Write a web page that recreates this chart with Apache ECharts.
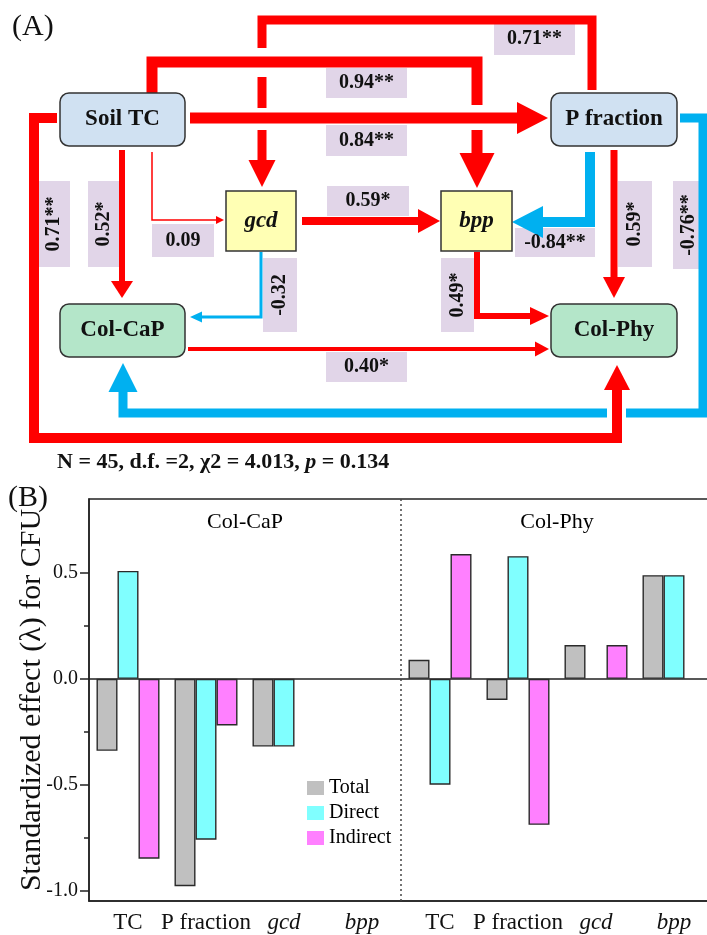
<!DOCTYPE html>
<html>
<head>
<meta charset="utf-8">
<script src="https://cdn.jsdelivr.net/npm/echarts@6/dist/echarts.min.js"></script>
<style>
  html, body { margin: 0; padding: 0; background: #fff; }
  #chart { width: 707px; height: 935px; }
</style>
</head>
<body>
<div id="chart"></div>
<script>
// ---- panel B data (standardized effects) ----
const categories = ['TC', 'P fraction', 'gcd', 'bpp', 'TC', 'P fraction', 'gcd', 'bpp'];
const groupNames = ['Col-CaP', 'Col-Phy'];
const totalEffect = [-0.34, -0.98, -0.32, null, 0.09, -0.10, 0.16, 0.49];
const directEffect = [0.51, -0.76, -0.32, null, -0.50, 0.58, null, 0.49];
const indirectEffect = [-0.85, -0.22, null, null, 0.59, -0.69, 0.16, null];
const yTicks = [-1.0, -0.5, 0.0, 0.5];
const yMinorTicks = [-0.75, -0.25, 0.25];

// ---- panel A data (path model) ----
const nodeNames = ['Soil TC', 'P fraction', 'gcd', 'bpp', 'Col-CaP', 'Col-Phy'];
const pathCoefs = ['0.71**', '0.94**', '0.84**', '0.09', '0.52*', '0.71**', '0.59*',
  '-0.32', '-0.84**', '0.59*', '-0.76**', '0.49*', '0.40*'];
const fitNote = 'N = 45, d.f. =2, \u03c72 = 4.013, ';
const fitP = '0.134';

const serif = '"Liberation Serif", "Times New Roman", serif';
const RED = '#ff0000';
const BLUE = '#00b0f0';

// layout of the diagram (pixels)
const nodeLayout = [
  { box: [60, 93, 125, 53], fill: '#d0e1f2', r: 9 },
  { box: [551, 93, 126, 53], fill: '#d0e1f2', r: 9 },
  { box: [226, 191, 70, 60], fill: '#ffffb4', r: 0, italic: true },
  { box: [441, 191, 71, 60], fill: '#ffffb4', r: 0, italic: true },
  { box: [60, 304, 125, 53], fill: '#b4e6c9', r: 9 },
  { box: [551, 304, 126, 53], fill: '#b4e6c9', r: 9 }
];
// one entry per path: polyline pieces (last one ends at arrow tip), width, head [len, width], colour, label box
const pathLayout = [
  { segs: [[[592, 90], [592, 20], [262, 20], [262, 48]], [[262, 77], [262, 108]], [[262, 130], [262, 187]]], w: 9, head: [27, 27], c: RED, lab: [494, 23, 81, 32] },
  { segs: [[[152, 93], [152, 62], [477, 62], [477, 105]], [[477, 130], [477, 188]]], w: 11, head: [35, 35], c: RED, lab: [326, 68, 81, 30] },
  { segs: [[[190, 118], [548, 118]]], w: 11, head: [31, 32], c: RED, lab: [326, 125, 81, 31] },
  { segs: [[[152, 152], [152, 220], [224, 220]]], w: 1.5, head: [8, 8], c: RED, lab: [152, 224, 62, 33] },
  { segs: [[[122, 150], [122, 298]]], w: 6, head: [17, 22], c: RED, lab: [88, 181, 31, 86], rot: true },
  { segs: [[[57, 118], [34, 118], [34, 438], [617, 438], [617, 365]]], w: 10, head: [25, 26], c: RED, lab: [38, 181, 32, 86], rot: true },
  { segs: [[[302, 221], [440, 221]]], w: 8, head: [22, 24], c: RED, lab: [327, 186, 82, 30] },
  { segs: [[[261, 252], [261, 317], [190, 317]]], w: 3, head: [12, 11], c: BLUE, lab: [263, 258, 34, 74], rot: true },
  { segs: [[[590, 152], [590, 222], [512, 222]]], w: 10, head: [31, 32], c: BLUE, lab: [515, 228, 80, 29] },
  { segs: [[[614, 150], [614, 298]]], w: 7, head: [21, 22], c: RED, lab: [618, 181, 34, 86], rot: true },
  { segs: [[[680, 118], [703, 118], [703, 413], [626, 413]], [[607, 413], [123, 413], [123, 363]]], w: 9, head: [29, 29], c: BLUE, lab: [673, 181, 31, 88], rot: true },
  { segs: [[[477, 252], [477, 316], [549, 316]]], w: 6, head: [19, 18], c: RED, lab: [441, 258, 33, 74], rot: true },
  { segs: [[[188, 349], [549, 349]]], w: 4, head: [14, 15], c: RED, lab: [326, 352, 81, 30] }
];

function arrowShapes(p) {
  const out = [];
  p.segs.forEach((seg, i) => {
    const pts = seg.map(q => q.slice());
    if (i === p.segs.length - 1) {
      const a = pts[pts.length - 2], b = pts[pts.length - 1];
      const dx = b[0] - a[0], dy = b[1] - a[1];
      const L = Math.hypot(dx, dy), ux = dx / L, uy = dy / L;
      const bx = b[0] - ux * p.head[0], by = b[1] - uy * p.head[0];
      const hw = p.head[1] / 2;
      pts[pts.length - 1] = [bx + ux, by + uy];
      out.push({
        type: 'polygon', z: 20,
        shape: { points: [b, [bx - uy * hw, by + ux * hw], [bx + uy * hw, by - ux * hw]] },
        style: { fill: p.c }
      });
    }
    out.push({
      type: 'polyline', z: 20,
      shape: { points: pts },
      style: { stroke: p.c, lineWidth: p.w, fill: null, lineJoin: 'miter', lineCap: 'butt' }
    });
  });
  return out;
}

const graphics = [];
// coefficient label boxes
pathLayout.forEach((p, i) => {
  const [x, y, w, h] = p.lab;
  graphics.push({ type: 'rect', z: 10, shape: { x, y, width: w, height: h }, style: { fill: '#e1d5e8' } });
  graphics.push({
    type: 'text', z: 40, x: x + w / 2, y: y + h / 2, rotation: p.rot ? Math.PI / 2 : 0,
    style: { text: pathCoefs[i], x: 0, y: 0, align: 'center', verticalAlign: 'middle',
      font: 'bold 20px ' + serif, fill: '#111' }
  });
});
pathLayout.forEach(p => arrowShapes(p).forEach(g => graphics.push(g)));
// nodes
nodeLayout.forEach((n, i) => {
  const [x, y, w, h] = n.box;
  graphics.push({ type: 'rect', z: 30, shape: { x, y, width: w, height: h, r: n.r },
    style: { fill: n.fill, stroke: '#333', lineWidth: 1.5 } });
  graphics.push({ type: 'text', z: 40, x: x + w / 2, y: y + h / 2,
    style: { text: nodeNames[i], x: 0, y: 0, align: 'center', verticalAlign: 'middle',
      font: (n.italic ? 'italic ' : '') + 'bold 23px ' + serif, fill: '#111' } });
});
graphics.push({ type: 'text', z: 40, left: 12, top: 12, style: { text: '(A)', font: '30px ' + serif, fill: '#111' } });
graphics.push({ type: 'text', z: 40, left: 8, top: 483, style: { text: '(B)', font: '30px ' + serif, fill: '#111' } });
graphics.push({ type: 'text', z: 40, x: 57, y: 462, style: {
  text: '{n|' + fitNote + '}{i|p}{n| = ' + fitP + '}', x: 0, y: 0, verticalAlign: 'middle',
  rich: { n: { font: 'bold 22px ' + serif, fill: '#111' }, i: { font: 'italic bold 22px ' + serif, fill: '#111' } }
} });

const axisLineStyle = { color: '#222', width: 1.5 };
const xLabel = {
  interval: 0, margin: 10, fontSize: 23, color: '#111', fontFamily: serif,
  formatter: v => (v === 'gcd' || v === 'bpp') ? '{i|' + v + '}' : v,
  rich: { i: { fontStyle: 'italic', fontSize: 23, fontFamily: serif, color: '#111' } }
};

const option = {
  animation: false,
  backgroundColor: '#fff',
  textStyle: { fontFamily: serif },
  graphic: graphics,
  grid: { left: 89, top: 499, width: 624, height: 402, containLabel: false, outerBoundsMode: 'none',
    show: true, borderColor: '#222', borderWidth: 1.5, backgroundColor: 'transparent' },
  legend: {
    data: ['Total', 'Direct', 'Indirect'], orient: 'vertical', left: 307, top: 778, padding: 0,
    itemWidth: 17, itemHeight: 14, itemGap: 5, icon: 'rect',
    itemStyle: { borderWidth: 0 },
    textStyle: { fontSize: 20, fontFamily: serif, color: '#000' }
  },
  xAxis: [
    { type: 'category', data: categories, position: 'bottom',
      axisLine: { onZero: false, lineStyle: axisLineStyle },
      axisTick: { alignWithLabel: true, length: 8, lineStyle: axisLineStyle },
      axisLabel: xLabel, splitLine: { show: false } },
    { type: 'category', data: categories, position: 'top',
      axisLine: { onZero: true, lineStyle: axisLineStyle },
      axisTick: { inside: true, alignWithLabel: true, length: 8, lineStyle: axisLineStyle },
      axisLabel: { show: false }, splitLine: { show: false } },
    { type: 'value', min: 0, max: 8, show: false }
  ],
  yAxis: [
    { type: 'value', min: -1.05, max: 0.85, position: 'left',
      name: 'Standardized effect (\u03bb) for CFU', nameLocation: 'middle', nameGap: 42,
      nameMoveOverlap: false,
      nameTextStyle: { fontSize: 30, fontFamily: serif, color: '#111' },
      axisLine: { show: true, onZero: false, lineStyle: axisLineStyle },
      axisTick: { show: true, length: 9, customValues: yTicks, lineStyle: axisLineStyle },
      axisLabel: { customValues: yTicks, formatter: v => v.toFixed(1), fontSize: 20, margin: 11, color: '#111', fontFamily: serif },
      splitLine: { show: false } },
    { type: 'value', min: -1.05, max: 0.85, position: 'left',
      axisLine: { show: false },
      axisTick: { show: true, length: 5, customValues: yMinorTicks, lineStyle: axisLineStyle },
      axisLabel: { show: false }, splitLine: { show: false } }
  ],
  series: [
    { name: 'Total', type: 'bar', data: totalEffect, barWidth: 21, barGap: '0%',
      itemStyle: { color: '#c0c0c0', borderColor: '#2a2a2a', borderWidth: 1.4 } },
    { name: 'Direct', type: 'bar', data: directEffect, barWidth: 21, barGap: '0%',
      itemStyle: { color: '#80ffff', borderColor: '#2a2a2a', borderWidth: 1.4 } },
    { name: 'Indirect', type: 'bar', data: indirectEffect, barWidth: 21, barGap: '0%',
      itemStyle: { color: '#ff80ff', borderColor: '#2a2a2a', borderWidth: 1.4 } },
    { name: 'divider', type: 'line', xAxisIndex: 2, yAxisIndex: 0, silent: true,
      data: [[4, -1.05], [4, 0.85]], symbol: 'none',
      lineStyle: { color: '#444', width: 1.5, type: [2, 3] } },
    { name: 'groups', type: 'scatter', xAxisIndex: 2, yAxisIndex: 0, silent: true,
      data: [[2, 0.74], [6, 0.74]], symbolSize: 0, itemStyle: { color: '#fff', opacity: 1 },
      label: { show: true, position: [0, 0], align: 'center', verticalAlign: 'middle',
        formatter: p => groupNames[p.dataIndex],
        fontSize: 22, fontFamily: serif, color: '#000', textBorderWidth: 0 } }
  ]
};

const chart = echarts.init(document.getElementById('chart'));
chart.setOption(option);
</script>
</body>
</html>
